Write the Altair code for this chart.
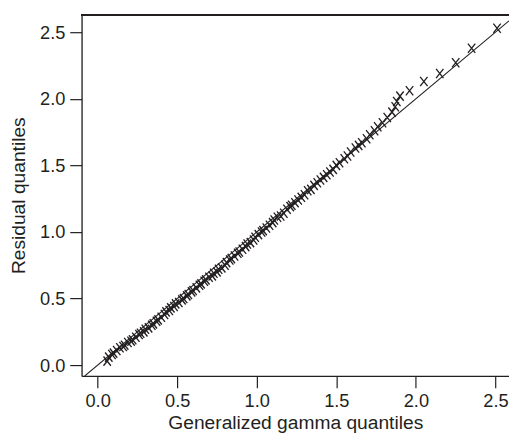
import altair as alt
import pandas as pd

# Theoretical (generalized gamma) quantiles
gg_quantiles = [
    0.06, 0.07, 0.09, 0.10, 0.12, 0.14, 0.16, 0.17, 0.19, 0.21, 0.22, 0.24, 0.26, 0.27,
    0.29, 0.30, 0.32, 0.34, 0.35, 0.37, 0.38, 0.40, 0.42, 0.43, 0.45, 0.46, 0.48, 0.49,
    0.51, 0.53, 0.54, 0.56, 0.57, 0.59, 0.60, 0.62, 0.64, 0.65, 0.67, 0.68, 0.70, 0.72,
    0.73, 0.75, 0.76, 0.78, 0.80, 0.81, 0.83, 0.84, 0.86, 0.88, 0.89, 0.91, 0.93, 0.94,
    0.96, 0.98, 0.99, 1.01, 1.03, 1.04, 1.06, 1.08, 1.10, 1.11, 1.13, 1.15, 1.17, 1.19,
    1.21, 1.22, 1.24, 1.26, 1.28, 1.30, 1.32, 1.34, 1.36, 1.38, 1.40, 1.42, 1.44, 1.46,
    1.48, 1.50, 1.52, 1.55, 1.57, 1.59, 1.62, 1.64, 1.66, 1.69, 1.71, 1.74, 1.76, 1.79,
    1.82, 1.85, 1.87, 1.88, 1.90, 1.96, 2.05, 2.15, 2.25, 2.35, 2.51,
]

# Residual quantiles
resid_quantiles = [
    0.03, 0.06, 0.08, 0.09, 0.11, 0.13, 0.14, 0.15, 0.17, 0.18, 0.19, 0.21, 0.23, 0.24,
    0.25, 0.27, 0.28, 0.30, 0.31, 0.33, 0.34, 0.36, 0.38, 0.40, 0.41, 0.43, 0.44, 0.46,
    0.47, 0.49, 0.50, 0.52, 0.53, 0.55, 0.56, 0.58, 0.60, 0.61, 0.63, 0.64, 0.66, 0.67,
    0.69, 0.70, 0.72, 0.73, 0.75, 0.77, 0.79, 0.80, 0.82, 0.84, 0.85, 0.87, 0.89, 0.91,
    0.92, 0.94, 0.96, 0.98, 1.00, 1.01, 1.03, 1.05, 1.07, 1.09, 1.11, 1.12, 1.14, 1.17,
    1.19, 1.20, 1.22, 1.24, 1.26, 1.28, 1.31, 1.32, 1.35, 1.37, 1.39, 1.41, 1.43, 1.45,
    1.47, 1.50, 1.52, 1.55, 1.57, 1.60, 1.63, 1.65, 1.67, 1.70, 1.73, 1.76, 1.79, 1.82,
    1.86, 1.90, 1.94, 1.98, 2.02, 2.06, 2.13, 2.19, 2.27, 2.38, 2.53,
]

x_ticks = [0.0, 0.5, 1.0, 1.5, 2.0, 2.5]
y_ticks = [0.0, 0.5, 1.0, 1.5, 2.0, 2.5]
x_domain = [-0.101, 2.585]
y_domain = [-0.081, 2.633]

W, H = 434, 367
INK = "#231f20"
FONT = "Liberation Sans"

pts = pd.DataFrame({"x": gg_quantiles, "y": resid_quantiles})
ref = pd.DataFrame({"x": [y_domain[0], x_domain[1]], "y": [y_domain[0], x_domain[1]]})

xs = alt.Scale(domain=x_domain, nice=False, zero=False)
ys = alt.Scale(domain=y_domain, nice=False, zero=False)

xaxis = alt.Axis(
    values=x_ticks, format=".1f", grid=False, tickSize=12, tickWidth=1.2,
    tickColor=INK, domainColor=INK, domainWidth=1.3, labelPadding=4,
    labelFont=FONT, labelFontSize=18.5, labelColor=INK, labelFlush=False,
    title="Generalized gamma quantiles", titleFont=FONT, titleFontSize=19.5,
    titleFontWeight="normal", titleColor=INK, titleBaseline="alphabetic",
    titleY=53, titleX=W / 2, titleAlign="center",
)
yaxis = alt.Axis(
    values=y_ticks, format=".1f", grid=False, tickSize=12, tickWidth=1.2,
    tickColor=INK, domainColor=INK, domainWidth=1.3, labelPadding=5,
    labelFont=FONT, labelFontSize=18.5, labelColor=INK, labelFlush=False,
    title="Residual quantiles", titleFont=FONT, titleFontSize=19.5,
    titleFontWeight="normal", titleColor=INK, titleBaseline="alphabetic",
    titleAngle=270, titleX=-58, titleY=H / 2, titleAlign="center",
)

points = alt.Chart(pts).mark_point(
    shape="M-0.8,-1L0.8,1M-0.8,1L0.8,-1", size=88, filled=False,
    stroke=INK, strokeWidth=1.35, opacity=1,
).encode(
    x=alt.X("x:Q", scale=xs, axis=xaxis),
    y=alt.Y("y:Q", scale=ys, axis=yaxis),
)

line = alt.Chart(ref).mark_line(color=INK, strokeWidth=1.1, clip=True).encode(
    x=alt.X("x:Q", scale=xs), y=alt.Y("y:Q", scale=ys)
)

top = alt.Chart(pts).mark_rule(color=INK, strokeWidth=1.2).encode(
    x=alt.value(0), x2=alt.value(W + 2), y=alt.value(0.5)
)

chart = alt.layer(line, points, top).properties(
    width=W, height=H,
    autosize=alt.AutoSizeParams(type="none"),
    padding={"left": 74.7, "top": 3.3, "right": 0, "bottom": 57},
).configure_view(stroke=None).configure(background="white")

chart.save("out.html", embed_options={"renderer": "svg", "actions": False})
